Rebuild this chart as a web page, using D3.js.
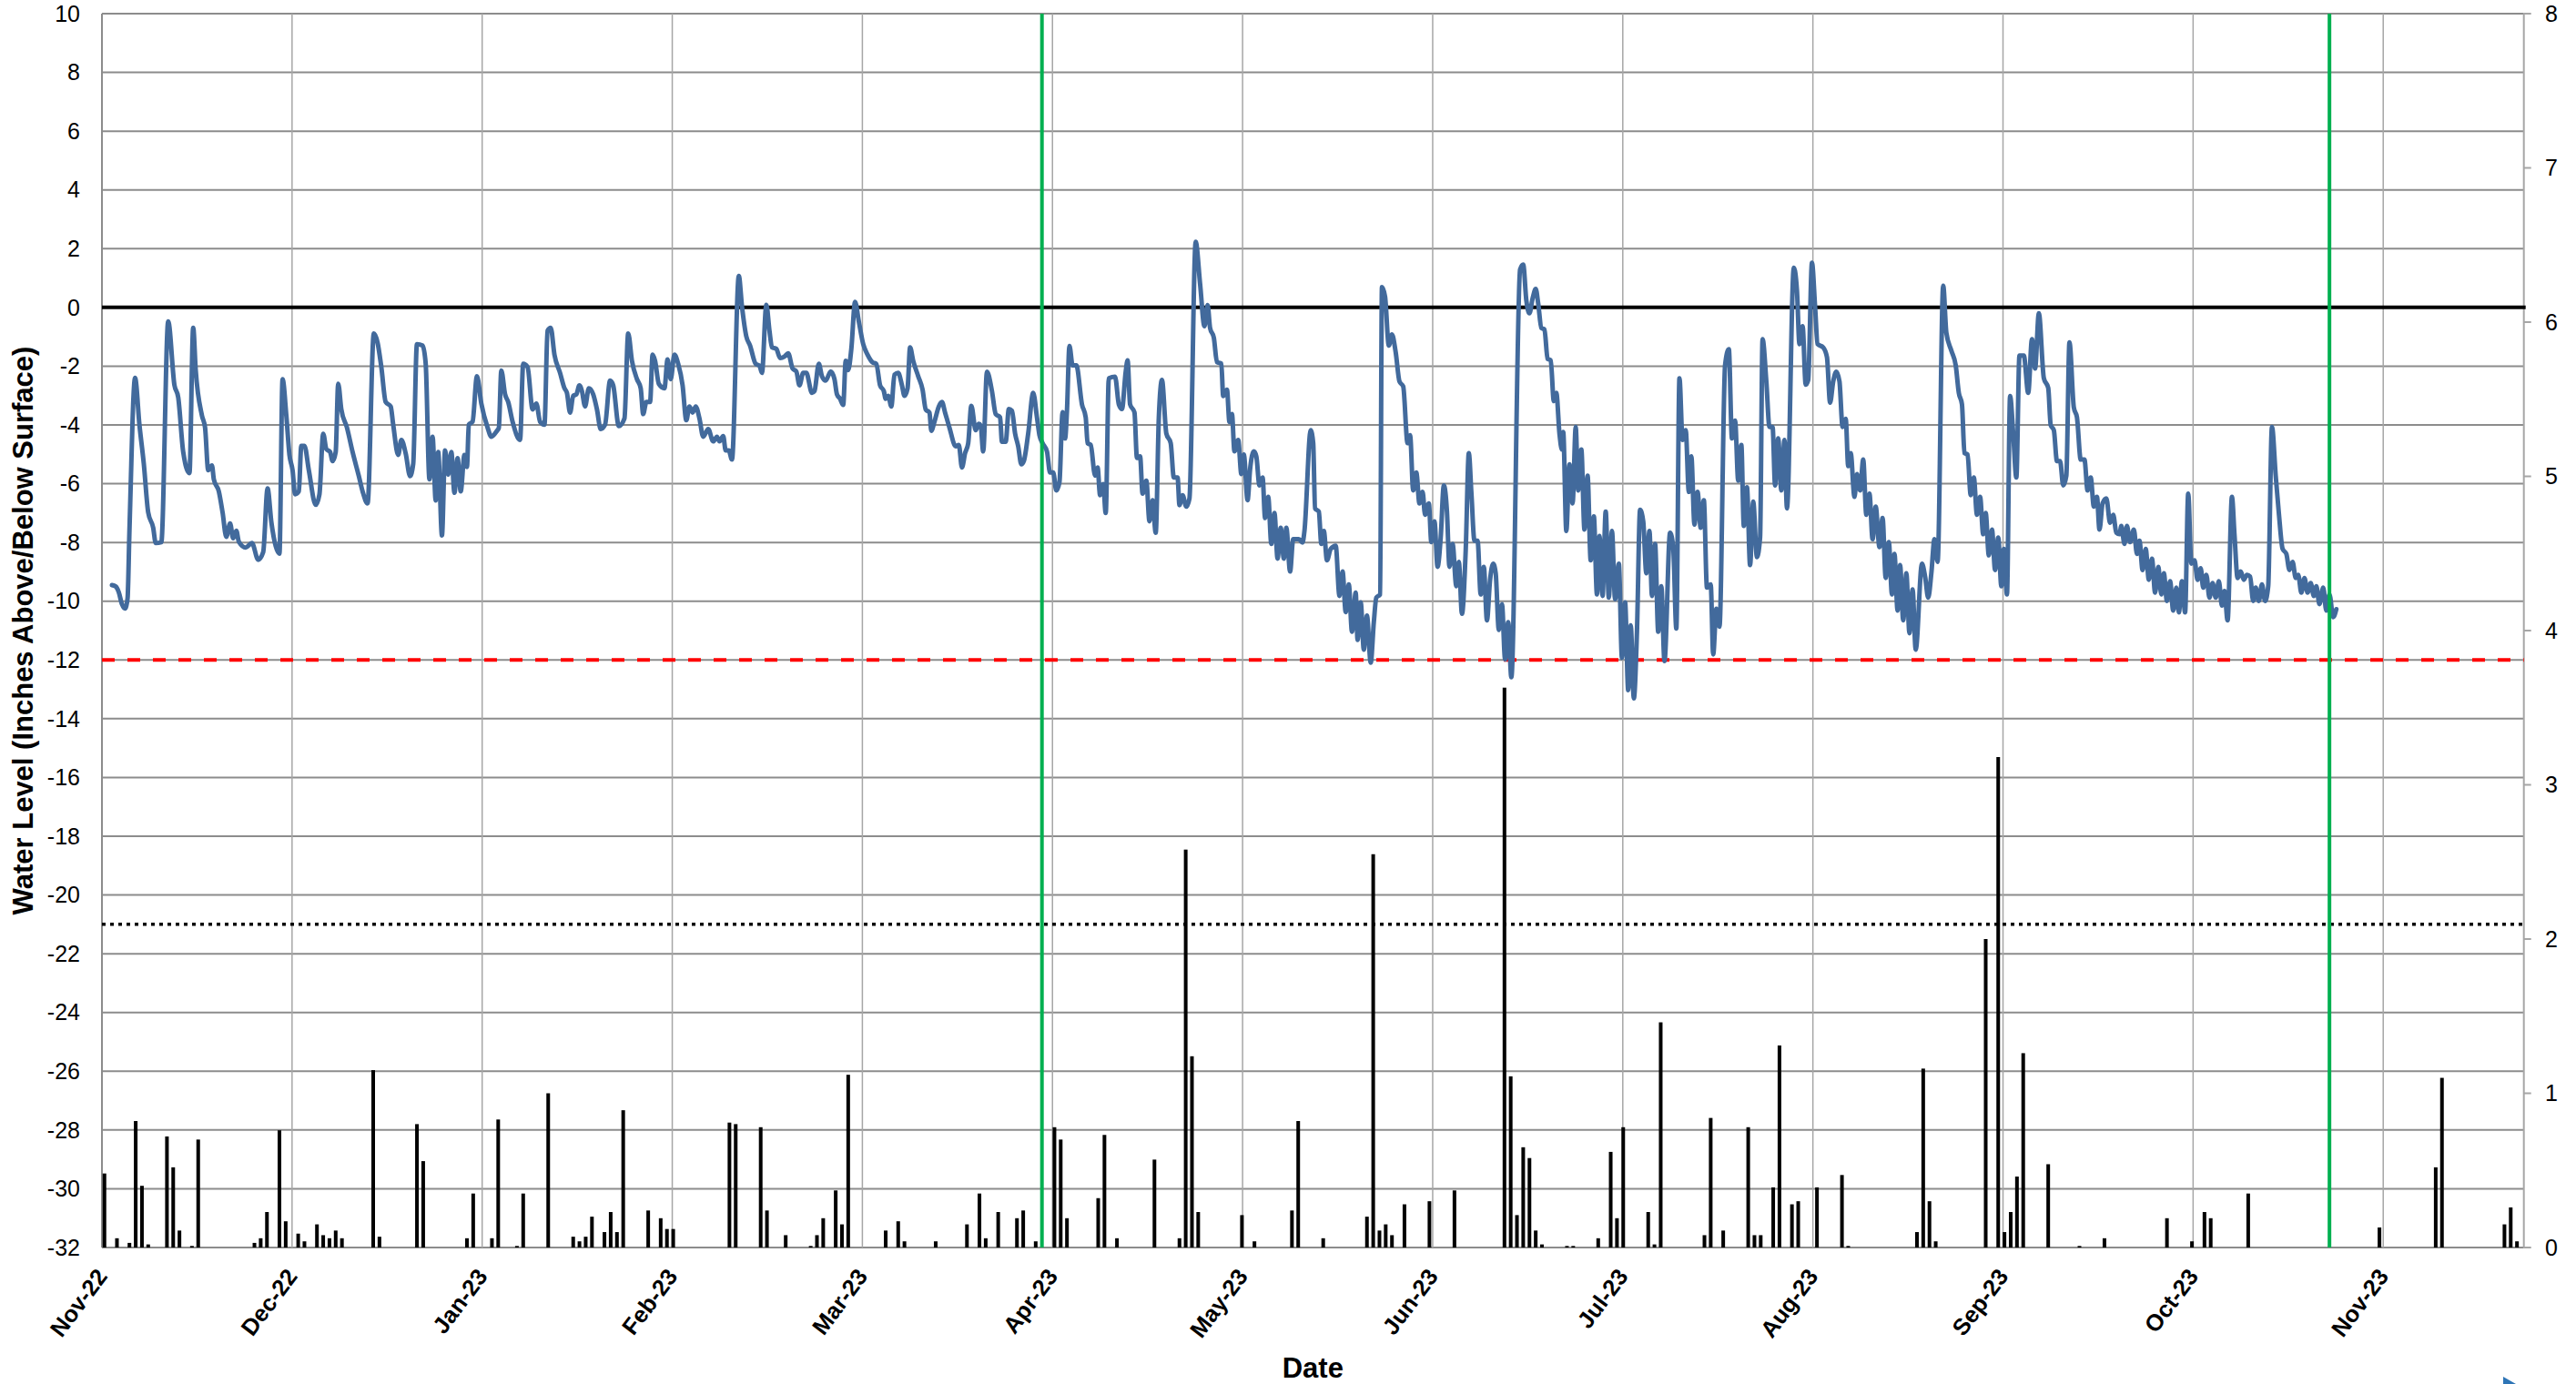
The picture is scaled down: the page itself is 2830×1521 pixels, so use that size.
<!DOCTYPE html>
<html><head><meta charset="utf-8">
<script src="https://cdn.jsdelivr.net/npm/d3@7"></script>
<style>html,body{margin:0;padding:0;background:#fff;}svg{display:block;font-family:"Liberation Sans",Arial,sans-serif;}</style>
</head><body>
<svg id="chart" width="2830" height="1521"></svg>
<script>
// ---- axis labels ----
const monthLabels = ["Nov-22","Dec-22","Jan-23","Feb-23","Mar-23","Apr-23","May-23","Jun-23","Jul-23","Aug-23","Sep-23","Oct-23","Nov-23"];
const leftTicks = [-32,-30,-28,-26,-24,-22,-20,-18,-16,-14,-12,-10,-8,-6,-4,-2,0,2,4,6,8,10];
const rightTicks = [0,1,2,3,4,5,6,7,8];
const yTitle = "Water Level (Inches Above/Below Surface)";
const xTitle = "Date";
// ---- reference lines (left axis, inches) ----
const surfaceLevel = 0;
const thresholdLevel = -12;
const dottedLevel = -21;
// ---- vertical markers (days since 1 Nov 2022) ----
const markerDays = [150, 356];
// ---- daily rainfall (right axis, inches): day since 1 Nov 2022 ----
const rainDay = [0,2,4,5,6,7,10,11,12,14,15,24,25,26,28,29,31,32,34,35,36,37,38,43,44,50,51,58,59,62,63,66,67,71,75,76,77,78,80,81,82,83,87,89,90,91,100,101,105,106,109,113,114,115,117,118,119,125,127,128,133,138,140,141,143,146,147,149,152,153,154,159,160,162,168,172,173,174,175,182,184,190,191,195,202,203,204,205,206,208,212,216,224,225,226,227,228,229,230,234,235,239,241,242,243,247,248,249,256,257,259,263,264,265,267,268,270,271,274,278,279,290,291,292,293,301,303,304,305,306,307,311,316,320,330,334,336,337,343,364,373,374,384,385,386];
const rainIn = [0.48,0.06,0.03,0.82,0.40,0.02,0.72,0.52,0.11,0.01,0.70,0.03,0.06,0.23,0.76,0.17,0.09,0.04,0.15,0.08,0.06,0.11,0.06,1.15,0.07,0.80,0.56,0.06,0.35,0.06,0.83,0.01,0.35,1.00,0.07,0.04,0.07,0.20,0.10,0.23,0.10,0.89,0.24,0.19,0.12,0.12,0.81,0.80,0.78,0.24,0.08,0.01,0.08,0.19,0.37,0.15,1.12,0.11,0.17,0.04,0.04,0.15,0.35,0.06,0.23,0.19,0.24,0.04,0.78,0.70,0.19,0.32,0.73,0.06,0.57,0.06,2.58,1.24,0.23,0.21,0.04,0.24,0.82,0.06,0.20,2.55,0.11,0.15,0.08,0.28,0.30,0.37,3.63,1.11,0.21,0.65,0.58,0.11,0.02,0.01,0.01,0.06,0.62,0.19,0.78,0.23,0.02,1.46,0.08,0.84,0.11,0.78,0.08,0.08,0.39,1.31,0.28,0.30,0.39,0.47,0.01,0.10,1.16,0.30,0.04,2.00,3.18,0.10,0.23,0.46,1.26,0.54,0.01,0.06,0.19,0.04,0.23,0.19,0.35,0.13,0.52,1.10,0.15,0.26,0.04];
// ---- water level (left axis, inches): [day since 1 Nov 2022, level] ----
const levelSeries = [
[1.2,-9.45],[1.8,-9.5],[2.3,-9.7],[2.8,-10.1],[3.3,-10.25],[3.7,-9.9],[4.0,-7.6],[4.9,-2.4],[5.6,-4.0],[6.3,-5.33],[7.0,-6.98],[7.8,-7.5],[8.2,-8.02],[9.1,-7.99],[10.2,-0.48],[11.2,-2.65],[11.8,-3.06],[12.6,-4.92],[13.6,-5.64],[14.2,-0.69],[14.6,-2.13],[15.6,-3.68],[16.1,-4.09],[16.6,-5.54],[17.2,-5.38],[17.5,-5.85],[18.3,-6.26],[18.9,-6.98],[19.5,-7.81],[20.1,-7.35],[20.6,-7.86],[21.1,-7.6],[21.5,-7.97],[22.6,-8.17],[23.6,-8.02],[24.6,-8.59],[25.4,-8.33],[26.1,-6.16],[26.7,-7.3],[27.4,-8.12],[28.0,-8.38],[28.5,-2.44],[29.1,-3.68],[29.6,-5.02],[30.1,-5.54],[30.5,-6.36],[31.1,-6.26],[31.5,-4.71],[32.0,-4.71],[32.7,-5.54],[33.8,-6.72],[34.4,-6.36],[35.0,-4.30],[35.5,-4.82],[36.1,-4.92],[36.5,-5.23],[37.0,-4.92],[37.4,-2.6],[37.9,-3.47],[38.8,-4.09],[39.7,-4.92],[40.7,-5.74],[41.3,-6.26],[42.1,-6.67],[43.1,-0.89],[43.7,-1.2],[44.3,-2.03],[45.0,-3.22],[45.8,-3.37],[46.2,-3.99],[47.0,-5.02],[47.5,-4.51],[48.2,-4.97],[48.9,-5.74],[49.4,-5.33],[50.0,-1.25],[50.9,-1.30],[51.4,-1.92],[52.0,-5.85],[52.5,-4.4],[53.0,-6.57],[53.4,-4.92],[54.0,-7.76],[54.5,-4.87],[55.0,-5.69],[55.5,-4.92],[56.0,-6.31],[56.5,-5.13],[57.0,-6.26],[57.6,-5.02],[58.0,-5.43],[58.3,-3.99],[58.9,-3.89],[59.6,-2.34],[60.3,-3.27],[61.3,-4.09],[61.9,-4.40],[62.8,-4.2],[63.1,-4.1],[63.5,-2.15],
[64.1,-2.96],[64.6,-3.22],[65.3,-3.89],[66.5,-4.51],[67.0,-1.92],[67.7,-2.03],[68.5,-3.47],[69.1,-3.27],[69.7,-3.89],[70.4,-3.99],[70.9,-0.79],[71.4,-0.69],[72.0,-1.61],[72.9,-2.23],[73.6,-2.75],[74.0,-2.91],[74.5,-3.58],[75.0,-3.01],[75.5,-2.96],[76.0,-2.65],[76.4,-2.85],[76.9,-3.37],[77.5,-2.75],[78.2,-2.96],[78.8,-3.47],[79.4,-4.14],[80.1,-3.99],[80.9,-2.49],[81.4,-2.65],[82.3,-4.04],[83.2,-3.78],[83.8,-0.89],[84.4,-1.82],[85.2,-2.44],[85.8,-2.75],[86.2,-3.63],[86.7,-3.22],[87.3,-3.22],[87.7,-1.61],[88.1,-1.82],[88.7,-2.6],[89.6,-2.75],[90.1,-1.77],[90.6,-2.44],[91.2,-1.61],[91.8,-1.92],[92.5,-2.65],[93.1,-3.84],[93.6,-3.37],[94.1,-3.58],[94.6,-3.37],[95.2,-3.78],[95.8,-4.4],[96.6,-4.14],[97.4,-4.56],[98.0,-4.4],[98.4,-4.56],[99.0,-4.38],[99.4,-4.87],[99.9,-4.87],[100.4,-5.18],[101.5,1.07],[102.0,0.04],[102.7,-0.99],[103.3,-1.3],[104.2,-1.92],[104.8,-1.98],[105.2,-2.23],[105.9,0.09],[106.4,-0.79],[106.8,-1.36],[107.5,-1.41],[108.1,-1.72],[108.8,-1.67],[109.4,-1.56],[110.1,-2.08],[110.7,-2.18],[111.2,-2.65],[111.8,-2.23],[112.3,-2.23],[113.2,-2.91],[113.6,-2.85],[114.3,-1.92],[114.8,-2.34],[115.4,-2.49],[116.2,-2.18],[116.8,-2.44],[117.2,-2.96],[117.7,-3.11],[118.2,-3.32],[118.6,-1.82],[119.0,-2.13],[119.5,-1.41],[120.1,0.19],[120.7,-0.48],[121.4,-1.25],[122.1,-1.61],[122.9,-1.87],[123.5,-1.92],[124.1,-2.65],[124.7,-2.85],[125.0,-3.11],[125.4,-3.01],[125.9,-3.37],[126.4,-2.29],[127.0,-2.23],[127.6,-2.65],[128.0,-3.01],[128.5,-2.75],[128.9,-1.36],[129.4,-1.82],[130.2,-2.34],[130.9,-2.8],[131.4,-3.47],[132.0,-3.58],[132.3,-4.2],[132.8,-3.89],[133.5,-3.37],[134.0,-3.22],[134.5,-3.58],[135.2,-4.09],
[136.2,-4.73],[136.7,-4.68],[137.2,-5.45],[137.7,-4.96],[138.2,-4.62],[138.7,-3.35],[139.4,-4.18],[139.9,-3.96],[140.2,-4.02],[140.6,-4.9],[141.2,-2.19],[142.0,-2.85],[142.6,-3.63],[143.3,-3.74],[143.6,-4.57],[144.2,-4.57],[144.7,-3.46],[145.2,-3.52],[145.7,-4.29],[146.2,-4.73],[146.7,-5.34],[147.1,-5.23],[147.8,-4.29],[148.6,-2.91],[149.2,-3.74],[149.6,-4.35],[150.1,-4.62],[150.8,-4.9],[151.3,-5.62],[151.8,-5.62],[152.3,-6.23],[152.8,-5.95],[153.3,-3.57],[153.7,-4.46],[154.0,-3.52],[154.4,-1.31],[154.9,-1.97],[155.5,-1.97],[156.4,-3.30],[157.0,-3.74],[157.3,-4.62],[157.8,-4.68],[158.5,-5.73],[158.9,-5.45],[159.3,-6.39],[159.8,-6.01],[160.2,-7.0],[160.7,-2.41],[161.7,-2.36],[162.3,-3.30],[162.8,-3.46],[163.4,-2.19],[163.7,-1.8],[164.1,-3.30],[164.8,-3.57],[165.2,-5.12],[165.7,-5.07],[166.1,-6.34],[166.7,-5.9],[167.2,-7.28],[167.7,-6.56],[168.2,-7.67],[168.7,-3.74],[169.2,-2.47],[169.9,-4.29],[170.6,-4.62],[171.1,-5.79],[171.7,-5.79],[172.0,-6.73],[172.5,-6.39],[173.1,-6.78],[173.6,-6.5],[174.6,2.23],[175.3,0.8],[176.0,-0.64],[176.5,0.08],[176.9,-0.7],[177.5,-1.03],[178.0,-1.86],[178.7,-1.91],[179.0,-3.02],[179.6,-2.8],[180.0,-3.9],[180.4,-3.63],[180.8,-4.9],[181.4,-4.51],[181.9,-5.67],[182.3,-5.01],[182.9,-6.56],[183.3,-5.51],[183.9,-4.9],[184.3,-5.07],[184.8,-6.06],[185.3,-5.79],[185.7,-7.17],[186.2,-6.45],[186.7,-8.05],[187.2,-7.0],[187.7,-8.55],[188.2,-7.5],[188.7,-8.55],[189.1,-7.5],[189.7,-8.99],[190.2,-7.89],[191.1,-7.89],[191.7,-8.0],
[192.0,-7.61],[193.0,-4.18],[193.4,-4.62],[193.7,-6.84],[194.3,-6.95],[194.7,-8.05],[195.1,-7.61],[195.6,-8.61],[196.2,-8.22],[197.0,-8.11],[197.6,-9.82],[198.1,-8.99],[198.6,-10.37],[199.1,-9.43],[199.6,-11.04],[200.2,-9.71],[200.5,-11.32],[201.0,-10.04],[201.5,-11.65],[202.0,-10.49],[202.6,-12.09],[203.1,-10.71],[203.5,-9.88],[204.1,-9.77],[204.4,0.69],[204.9,0.36],[205.5,-1.30],[206.0,-0.92],[206.6,-1.53],[207.2,-2.52],[207.8,-2.69],[208.5,-4.62],[208.9,-4.35],[209.4,-6.23],[209.9,-5.62],[210.4,-6.67],[210.9,-6.28],[211.3,-7.06],[211.9,-6.67],[212.3,-7.99],[212.8,-7.28],[213.3,-8.83],[213.8,-7.83],[214.3,-6.06],[214.8,-6.95],[215.2,-8.83],[215.7,-8.05],[216.3,-9.49],[216.7,-8.66],[217.2,-10.43],[217.8,-8.27],[218.3,-4.96],[218.7,-6.28],[219.2,-7.94],[219.7,-7.94],[220.2,-9.77],[220.7,-8.83],[221.2,-10.65],[221.7,-9.27],[222.2,-8.72],[222.6,-9.05],[223.1,-10.98],[223.6,-10.1],[224.1,-11.98],[224.6,-10.71],[225.1,-12.59],[226.5,1.29],[227.0,1.46],[227.5,0.24],[228.0,-0.2],[228.5,0.3],[229.0,0.63],[229.4,0.13],[229.9,-0.7],[230.4,-0.75],[230.9,-1.75],[231.4,-1.8],[231.9,-3.19],[232.3,-2.91],[232.8,-4.29],[233.2,-4.84],[233.4,-4.24],[233.9,-7.61],[234.4,-5.34],[234.9,-6.67],[235.4,-4.07],[235.8,-6.23],[236.3,-4.84],[236.8,-7.56],[237.3,-5.73],[237.8,-8.61],[238.3,-7.11],[238.8,-9.77],[239.2,-7.78],[239.7,-9.82],[240.2,-6.95],[240.7,-9.88],[241.2,-7.61],[241.7,-9.93],[242.3,-8.72],[242.8,-11.93],[243.3,-10.04],[243.8,-13.03],[244.2,-10.82],[244.7,-13.31],[245.2,-11.04],[245.7,-6.89],[246.2,-7.28],[246.7,-9.05],[247.2,-7.61],[247.6,-9.82],[248.1,-8.05],[248.6,-11.04],[249.1,-9.49],
[249.6,-12.04],[250.5,-7.67],[251.0,-8.16],[251.5,-10.93],[252.0,-2.41],[252.5,-4.51],[253.0,-4.18],[253.5,-6.28],[253.9,-5.07],[254.4,-7.39],[254.9,-6.28],[255.4,-7.5],[255.9,-6.56],[256.4,-9.54],[257.0,-9.43],[257.4,-11.81],[257.9,-10.26],[258.4,-10.87],[259.3,-1.97],[259.9,-1.42],[260.4,-4.46],[260.9,-3.85],[261.4,-5.9],[261.9,-4.68],[262.3,-7.44],[262.8,-6.12],[263.3,-8.77],[263.8,-6.61],[264.4,-8.5],[264.9,-7.83],[265.3,-1.08],[265.9,-2.52],[266.4,-4.07],[266.9,-4.07],[267.3,-6.06],[267.8,-4.46],[268.3,-6.23],[268.8,-4.51],[269.2,-6.84],[270.3,1.35],[270.8,0.57],[271.2,-1.25],[271.7,-0.64],[272.2,-2.63],[272.6,-2.47],[273.2,1.52],[273.7,0.02],[274.1,-1.25],[275.0,-1.36],[275.6,-1.69],[276.1,-3.24],[276.6,-2.52],[277.1,-2.19],[277.6,-2.52],[278.1,-4.07],[278.6,-3.79],[279.0,-5.4],[279.4,-4.96],[280.0,-6.45],[280.4,-5.67],[280.9,-6.23],[281.4,-5.18],[281.9,-7.06],[282.4,-6.34],[282.9,-7.89],[283.4,-6.78],[284.0,-8.16],[284.5,-7.17],[285.0,-9.21],[285.5,-7.99],[286.0,-9.77],[286.4,-8.39],[286.9,-10.32],[287.3,-8.77],[287.8,-10.65],[288.3,-9.05],[288.8,-11.09],[289.3,-9.6],[289.8,-11.65],[290.8,-8.72],[291.3,-9.16],[291.8,-9.88],[292.3,-9.05],[292.8,-7.89],[293.3,-8.66],[294.2,0.74],[294.7,-0.86],[295.5,-1.47],[296.2,-1.97],[296.7,-2.91],[297.2,-3.3],[297.6,-4.96],[298.1,-5.01],[298.6,-6.39],[299.1,-5.79],[299.6,-7.06],[300.1,-6.45],[300.6,-7.72],[301.0,-7.0],[301.5,-8.44],[302.0,-7.56],[302.5,-8.94],[303.0,-7.83],[303.5,-9.49],[303.9,-8.22],[304.4,-9.77],[304.9,-3.02],[305.4,-4.29],
[305.9,-5.79],[306.4,-1.64],[307.1,-1.64],[307.8,-2.91],[308.4,-1.08],[308.9,-2.08],[309.5,-0.2],[310.3,-2.41],[311.0,-2.74],[311.4,-4.01],[311.9,-4.18],[312.4,-5.23],[312.9,-5.23],[313.4,-6.06],[313.9,-5.73],[314.4,-1.19],[315.1,-3.41],[315.6,-3.74],[316.2,-5.18],[316.8,-5.18],[317.3,-6.23],[317.8,-5.79],[318.3,-6.78],[318.8,-6.45],[319.2,-7.56],[319.7,-6.67],[320.3,-6.5],[320.9,-7.33],[321.4,-7.06],[321.9,-7.67],[322.4,-7.72],[322.7,-7.44],[323.2,-8.05],[323.6,-7.44],[324.1,-7.99],[324.7,-7.56],[325.2,-8.39],[325.6,-7.94],[326.1,-8.94],[326.6,-8.22],[327.1,-9.27],[327.6,-8.55],[328.1,-9.71],[328.6,-8.83],[329.1,-9.77],[329.5,-9.05],[330.0,-9.99],[330.5,-9.32],[331.0,-10.32],[331.5,-9.54],[331.9,-10.38],[332.4,-9.32],[332.9,-10.38],[333.4,-6.34],[333.9,-8.72],[334.4,-8.61],[334.9,-9.27],[335.4,-8.88],[335.8,-9.54],[336.3,-9.1],[336.8,-9.88],[337.3,-9.38],[337.8,-9.88],[338.3,-9.32],[338.8,-10.15],[339.2,-9.65],[339.7,-10.65],[340.4,-6.45],[340.8,-7.72],[341.3,-9.21],[341.8,-8.99],[342.3,-9.27],[342.8,-9.1],[343.3,-9.16],[343.8,-9.99],[344.2,-9.54],[344.7,-9.99],[345.2,-9.43],[345.7,-9.99],[346.2,-9.49],[346.8,-4.07],[347.4,-5.73],[347.9,-7.0],[348.5,-8.22],[349.1,-8.39],[349.6,-8.94],[350.1,-8.66],[350.6,-9.21],[351.0,-9.1],[351.5,-9.71],[352.0,-9.21],[352.5,-9.71],[353.0,-9.38],[353.5,-9.82],[353.9,-9.49],[354.4,-10.1],[355.0,-9.54],[355.5,-10.32],[356.0,-9.77],[356.6,-10.54],[357.1,-10.27]
];

// ---- layout ----
const svg = d3.select("#chart");
const X0 = 112, X1 = 2772.7, Y0 = 15, Y1 = 1371;
const dayOffset = 0.4;           // values are plotted at day + offset
const daysShown = 387.5;
const monthStep = 365 / 12;       // evenly spaced monthly gridlines
const x = d3.scaleLinear().domain([0, daysShown]).range([X0, X1]);
const yL = d3.scaleLinear().domain([-32, 10]).range([Y1, Y0]);
const yR = d3.scaleLinear().domain([0, 8]).range([Y1, Y0]);
const monthTicks = monthLabels.map((_, i) => i * monthStep);

// horizontal gridlines
svg.append("g").selectAll("line").data(leftTicks).join("line")
  .attr("x1", X0).attr("x2", X1).attr("y1", d => yL(d)).attr("y2", d => yL(d))
  .attr("stroke", "#8c8c8c").attr("stroke-width", 2);
// vertical gridlines
svg.append("g").selectAll("line").data(monthTicks.slice(1)).join("line")
  .attr("x1", d => x(d)).attr("x2", d => x(d)).attr("y1", Y0).attr("y2", Y1)
  .attr("stroke", "#a6a6a6").attr("stroke-width", 1.5);
// axes lines
svg.append("line").attr("x1", X0).attr("x2", X0).attr("y1", Y0).attr("y2", Y1).attr("stroke", "#8c8c8c").attr("stroke-width", 2);
svg.append("line").attr("x1", X1).attr("x2", X1).attr("y1", Y0).attr("y2", Y1).attr("stroke", "#a6a6a6").attr("stroke-width", 2);

// reference lines
svg.append("line").attr("x1", X0).attr("x2", X1 + 2).attr("y1", yL(surfaceLevel)).attr("y2", yL(surfaceLevel))
  .attr("stroke", "#000").attr("stroke-width", 4);
svg.append("line").attr("x1", X0).attr("x2", X1).attr("y1", yL(thresholdLevel)).attr("y2", yL(thresholdLevel))
  .attr("stroke", "#ff0000").attr("stroke-width", 4).attr("stroke-dasharray", "14,14");
svg.append("line").attr("x1", X0).attr("x2", X1).attr("y1", yL(dottedLevel)).attr("y2", yL(dottedLevel))
  .attr("stroke", "#000").attr("stroke-width", 3.5).attr("stroke-dasharray", "4,5");

// rainfall bars
const rain = rainDay.map((d, i) => ({d, v: rainIn[i]}));
const barW = 4;
svg.append("g").selectAll("rect").data(rain).join("rect")
  .attr("x", r => x(r.d + dayOffset) - barW / 2).attr("width", barW)
  .attr("y", r => yR(r.v)).attr("height", r => yR(0) - yR(r.v))
  .attr("fill", "#000");

// water level line
const line = d3.line().x(p => x(p[0] + dayOffset)).y(p => yL(p[1])).curve(d3.curveMonotoneX);
svg.append("path").datum(levelSeries).attr("d", line)
  .attr("fill", "none").attr("stroke", "#426a9c").attr("stroke-width", 5)
  .attr("stroke-linejoin", "round").attr("stroke-linecap", "round");

// vertical green markers
svg.append("g").selectAll("line").data(markerDays).join("line")
  .attr("x1", d => x(d + dayOffset)).attr("x2", d => x(d + dayOffset)).attr("y1", Y0).attr("y2", Y1)
  .attr("stroke", "#00b050").attr("stroke-width", 4);

// right axis ticks
svg.append("g").selectAll("line").data(rightTicks).join("line")
  .attr("x1", X1).attr("x2", X1 + 8).attr("y1", d => yR(d)).attr("y2", d => yR(d))
  .attr("stroke", "#a6a6a6").attr("stroke-width", 2);

// left tick labels
svg.append("g").selectAll("text").data(leftTicks).join("text")
  .attr("x", 88).attr("y", d => yL(d)).attr("dy", "0.35em").attr("text-anchor", "end")
  .attr("font-size", 25).attr("fill", "#000").text(d => d);
// right tick labels
svg.append("g").selectAll("text").data(rightTicks).join("text")
  .attr("x", 2796).attr("y", d => yR(d)).attr("dy", "0.35em").attr("text-anchor", "start")
  .attr("font-size", 25).attr("fill", "#000").text(d => d);
// month labels
svg.append("g").selectAll("text").data(monthLabels).join("text")
  .attr("transform", (d, i) => `translate(${x(monthTicks[i]) + 7},${Y1 + 32}) rotate(-53)`)
  .attr("text-anchor", "end").attr("font-size", 25.5).attr("font-weight", "bold").attr("fill", "#000")
  .text(d => d);
// axis titles
svg.append("text").attr("x", (X0 + X1) / 2).attr("y", 1514).attr("text-anchor", "middle")
  .attr("font-size", 31).attr("font-weight", "bold").text(xTitle);
svg.append("text").attr("transform", `translate(36,${(Y0 + Y1) / 2}) rotate(-90)`).attr("text-anchor", "middle")
  .attr("font-size", 31).attr("font-weight", "bold").text(yTitle);
// small cut-off marker at lower right
svg.append("path").attr("d", "M2750,1513 L2764,1521 L2750,1521 Z").attr("fill", "#2e75b6");
</script>
</body></html>
